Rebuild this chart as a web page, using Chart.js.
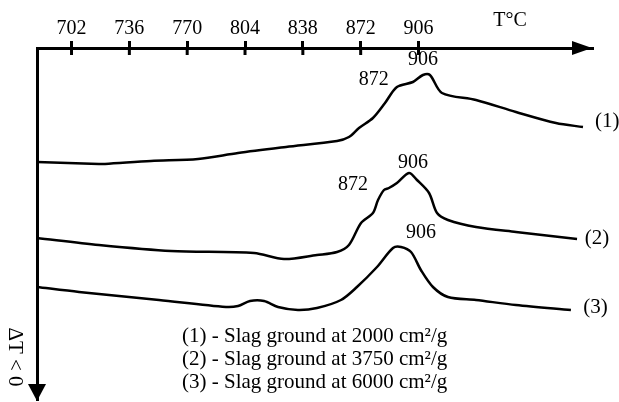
<!DOCTYPE html>
<html><head><meta charset="utf-8">
<script src="https://cdn.jsdelivr.net/npm/chart.js@4/dist/chart.umd.min.js"></script>
<style>html,body{margin:0;padding:0;background:#fff}#wrap{width:619px;height:402px}</style>
</head><body><div id="wrap"><canvas id="c" width="619" height="402"></canvas></div>
<script>
// Temperature axis (°C)
const TICKS = [702, 736, 770, 804, 838, 872, 906];
const X_MIN = 681.7, X_MAX = 1008.0;
// ΔT signal (arbitrary units, increasing downward)
const Y_MIN = 0.2, Y_MAX = 35.4;

// Curve (1) - 2000 cm²/g
const T1 = [681.7, 718.1, 721.7, 748.7, 776.4, 799.9, 828.1, 858.1, 865.1, 871.0, 879.2, 886.3, 893.3, 902.7, 908.6, 912.7, 919.8, 939.8, 963.3, 986.8, 1002.7];
const S1 = [11.6, 11.8, 11.8, 11.5, 11.3, 10.7, 10.1, 9.5, 9.1, 8.2, 7.2, 5.7, 4.1, 3.6, 2.9, 2.9, 4.7, 5.4, 6.6, 7.7, 8.1];
// Curve (2) - 3750 cm²/g
const T2 = [681.7, 718.1, 760.5, 809.3, 826.9, 846.3, 858.1, 865.1, 872.2, 879.2, 882.2, 885.7, 888.6, 893.3, 900.4, 905.1, 912.2, 916.9, 923.3, 939.8, 963.3, 999.2];
const S2 = [19.2, 19.9, 20.5, 20.7, 21.3, 20.9, 20.6, 19.9, 17.7, 16.7, 15.4, 14.4, 14.2, 13.7, 12.7, 13.4, 14.7, 16.7, 17.4, 18.1, 18.6, 19.3];
// Curve (3) - 6000 cm²/g
const T3 = [681.7, 706.4, 753.4, 792.8, 799.9, 806.9, 815.2, 823.4, 835.1, 846.3, 860.4, 869.8, 881.6, 891.0, 895.7, 901.6, 907.4, 914.5, 923.3, 939.8, 963.3, 995.6];
const S3 = [24.1, 24.6, 25.4, 26.1, 26.0, 25.5, 25.5, 26.1, 26.4, 26.2, 25.4, 24.1, 22.1, 20.2, 20.1, 20.6, 22.4, 24.1, 25.1, 25.4, 25.9, 26.4];

const SERIES_TAGS = ['(1)', '(2)', '(3)'];
const SERIES_TAG_POS = [[1017, 7.5], [1011, 19.2], [1010, 26.1]];
const PEAK_TEXT = ['872', '906', '872', '906', '906'];
const PEAK_T = [879.7, 908.6, 867.5, 902.7, 907.4];
const PEAK_S = [3.4, 1.4, 13.9, 11.7, 18.7];
const LEGEND_LINES = ['(1) - Slag ground at 2000 cm²/g', '(2) - Slag ground at 3750 cm²/g', '(3) - Slag ground at 6000 cm²/g'];
const X_TITLE = 'T°C';
const Y_TITLE = 'ΔT < 0';

const FONT = '"Liberation Serif", "Times New Roman", serif';
const pts = (t, s) => t.map((v, i) => ({x: v, y: s[i]}));

const deco = {
  id: 'deco',
  afterDraw(chart) {
    const ctx = chart.ctx, a = chart.chartArea;
    const xs = chart.scales.x, ys = chart.scales.y;
    ctx.save();
    ctx.fillStyle = '#000'; ctx.strokeStyle = '#000';
    // lower half of tick marks
    ctx.lineWidth = 3;
    xs.ticks.forEach(t => {
      const px = xs.getPixelForValue(t.value);
      ctx.beginPath(); ctx.moveTo(px, a.top); ctx.lineTo(px, a.top + 7); ctx.stroke();
    });
    // x arrow
    ctx.beginPath();
    ctx.moveTo(a.right, a.top); ctx.lineTo(a.right - 20, a.top - 7); ctx.lineTo(a.right - 20, a.top + 7); ctx.closePath(); ctx.fill();
    // y arrow
    ctx.beginPath();
    ctx.moveTo(a.left, a.bottom + 1); ctx.lineTo(a.left - 9, a.bottom - 16); ctx.lineTo(a.left + 9, a.bottom - 16); ctx.closePath(); ctx.fill();
    // texts
    ctx.textAlign = 'center'; ctx.textBaseline = 'middle';
    ctx.font = '20px ' + FONT;
    ctx.fillText(X_TITLE, 510, 21);
    PEAK_TEXT.forEach((txt, i) => ctx.fillText(txt, xs.getPixelForValue(PEAK_T[i]), ys.getPixelForValue(PEAK_S[i])));
    ctx.font = '21px ' + FONT;
    SERIES_TAGS.forEach((txt, i) => ctx.fillText(txt, xs.getPixelForValue(SERIES_TAG_POS[i][0]), ys.getPixelForValue(SERIES_TAG_POS[i][1])));
    ctx.textAlign = 'left';
    LEGEND_LINES.forEach((txt, i) => ctx.fillText(txt, 182, 336 + i * 23));
    // y title rotated clockwise
    ctx.save();
    ctx.textAlign = 'center';
    ctx.translate(15, 357); ctx.rotate(Math.PI / 2);
    ctx.font = '21px ' + FONT;
    ctx.fillText(Y_TITLE, 0, 0);
    ctx.restore();
    ctx.restore();
  }
};

const ds = (d) => ({data: d, borderColor: '#000', borderWidth: 2.5, pointRadius: 0, tension: 0.3, fill: false});

new Chart(document.getElementById('c'), {
  type: 'line',
  data: {datasets: [ds(pts(T1, S1)), ds(pts(T2, S2)), ds(pts(T3, S3))]},
  options: {
    responsive: false, animation: false,
    layout: {padding: {left: 37, right: 27, top: 0, bottom: 2}},
    plugins: {legend: {display: false}, tooltip: {enabled: false}, title: {display: false}},
    scales: {
      x: {
        type: 'linear', position: 'top', min: X_MIN, max: X_MAX,
        afterBuildTicks: s => { s.ticks = TICKS.map(v => ({value: v})); },
        afterFit: s => { s.height = 48; },
        ticks: {font: {family: FONT, size: 20}, color: '#000', padding: 0, autoSkip: false, maxRotation: 0},
        grid: {drawOnChartArea: false, drawTicks: true, tickLength: 7, color: '#000', lineWidth: 3},
        border: {display: true, color: '#000', width: 3}
      },
      y: {
        type: 'linear', reverse: true, min: Y_MIN, max: Y_MAX,
        afterFit: s => { s.width = 0; },
        ticks: {display: false},
        grid: {display: false},
        border: {display: true, color: '#000', width: 3}
      }
    }
  },
  plugins: [deco]
});
</script>
</body></html>
